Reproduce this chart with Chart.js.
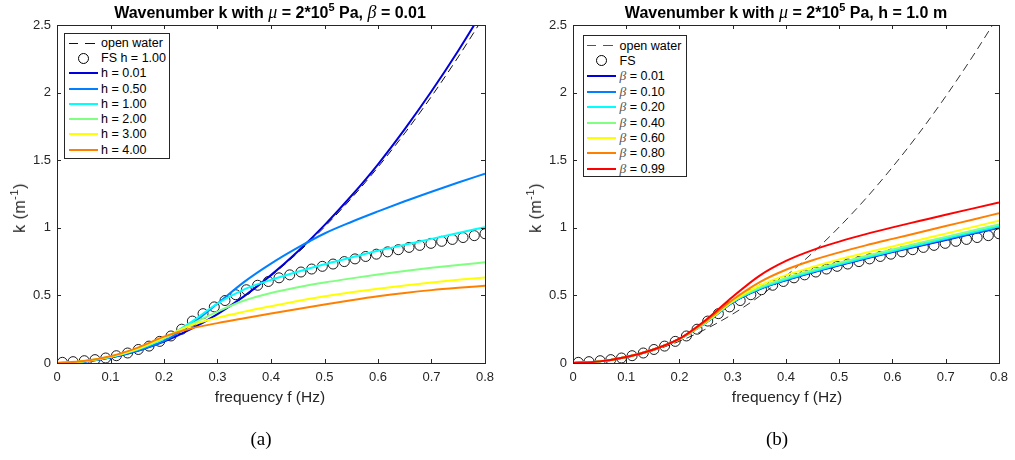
<!DOCTYPE html>
<html>
<head>
<meta charset="utf-8">
<script src="https://cdn.jsdelivr.net/npm/chart.js@4.4.0/dist/chart.umd.min.js"></script>
<style>
  body { margin: 0; background: #fff; width: 1015px; height: 460px; position: relative; overflow: hidden;
         font-family: 'Liberation Sans', Arial, sans-serif; color: #000; }
  canvas { position: absolute; top: 0; }
  .title { position: absolute; top: 3px; font-weight: bold; font-size: 16px; white-space: nowrap;
           transform: translateX(-50%); line-height: 18px; }
  .tex { font-family: 'Liberation Serif', serif; font-style: italic; font-weight: normal; font-size: 18px; }
  .title sup { font-size: 11px; line-height: 0; vertical-align: 7px; }
  .xlab { position: absolute; top: 388px; font-size: 15.5px; transform: translateX(-50%); white-space: nowrap; color: #262626; }
  .ylab { position: absolute; font-size: 16px; white-space: nowrap; color: #262626; letter-spacing: 0.5px;
          transform: translate(-50%, -50%) rotate(-90deg); }
  .ylab sup { font-size: 11px; line-height: 0; vertical-align: 7px; }
  .cap { position: absolute; top: 428px; font-family: 'Liberation Serif', serif; font-size: 19px; transform: translateX(-50%); }
  .legend { position: absolute; border: 1px solid #262626; background: #fff; box-sizing: border-box; }
  .legend .row { position: absolute; height: 16px; font-size: 12.5px; line-height: 16px; white-space: nowrap; color: #000; }
  .legend .sw { position: absolute; }
  .legend .beta { font-family: 'Liberation Serif', serif; font-style: italic; font-size: 13.5px; color: #555; }
</style>
</head>
<body>
<canvas id="chartA" width="505" height="460" style="left:0"></canvas>
<canvas id="chartB" width="510" height="460" style="left:505px"></canvas>

<div class="title" style="left:270px">Wavenumber k with <span class="tex">μ</span> = 2*10<sup>5</sup> Pa, <span class="tex">β</span> = 0.01</div>
<div class="title" style="left:786px">Wavenumber k with <span class="tex">μ</span> = 2*10<sup>5</sup> Pa, h = 1.0 m</div>
<div class="ylab" style="left:20px; top:208px">k (m<sup>-1</sup>)</div>
<div class="ylab" style="left:536px; top:208px">k (m<sup>-1</sup>)</div>
<div class="xlab" style="left:270px">frequency f (Hz)</div>
<div class="xlab" style="left:787px">frequency f (Hz)</div>
<div class="cap" style="left:261px">(a)</div>
<div class="cap" style="left:777px">(b)</div>

<script>
/* ── Frequencies (Hz) ─────────────────────────── */
const F_LINE = [0, 0.05, 0.10, 0.15, 0.20, 0.25, 0.30, 0.35, 0.40, 0.45, 0.50, 0.55, 0.60, 0.65, 0.70, 0.75, 0.80];
const F_FS = [0.010, 0.030, 0.051, 0.071, 0.091, 0.111, 0.132, 0.152, 0.172, 0.192,
              0.213, 0.233, 0.253, 0.273, 0.294, 0.314, 0.334, 0.354, 0.375, 0.395,
              0.415, 0.435, 0.456, 0.476, 0.496, 0.516, 0.537, 0.557, 0.577, 0.597,
              0.618, 0.638, 0.658, 0.678, 0.699, 0.719, 0.739, 0.759, 0.780, 0.800];

/* ── Wavenumber k (1/m), shared series ────────── */
const K_OPEN = [0, 0.010, 0.040, 0.091, 0.161, 0.252, 0.362, 0.493, 0.644, 0.815, 1.006, 1.217, 1.449, 1.700, 1.972, 2.264, 2.575];
const K_FS = [0.005, 0.010, 0.017, 0.025, 0.037, 0.054, 0.074, 0.100, 0.125, 0.160,
              0.200, 0.250, 0.310, 0.365, 0.415, 0.462, 0.505, 0.542, 0.575, 0.603,
              0.630, 0.652, 0.673, 0.695, 0.715, 0.732, 0.750, 0.770, 0.788, 0.805,
              0.822, 0.838, 0.855, 0.870, 0.885, 0.900, 0.914, 0.928, 0.942, 0.956];

/* ── (a) thickness sweep, beta = 0.01 ─────────── */
const K_H001 = [0, 0.010, 0.040, 0.089, 0.158, 0.250, 0.362, 0.495, 0.650, 0.825, 1.020, 1.235, 1.470, 1.730, 2.010, 2.310, 2.630];
const K_H050 = [0, 0.010, 0.040, 0.090, 0.163, 0.285, 0.440, 0.600, 0.735, 0.853, 0.958, 1.043, 1.121, 1.196, 1.267, 1.335, 1.400];
const K_H100 = [0, 0.013, 0.045, 0.100, 0.180, 0.300, 0.440, 0.545, 0.615, 0.675, 0.730, 0.780, 0.830, 0.875, 0.918, 0.962, 1.005];
const K_H200 = [0, 0.013, 0.046, 0.102, 0.185, 0.285, 0.380, 0.462, 0.518, 0.560, 0.595, 0.626, 0.655, 0.681, 0.704, 0.725, 0.745];
const K_H300 = [0, 0.013, 0.047, 0.105, 0.190, 0.278, 0.335, 0.380, 0.420, 0.458, 0.493, 0.523, 0.550, 0.574, 0.595, 0.615, 0.633];
const K_H400 = [0, 0.014, 0.050, 0.112, 0.195, 0.255, 0.295, 0.331, 0.366, 0.400, 0.433, 0.464, 0.493, 0.518, 0.539, 0.556, 0.571];

/* ── (b) beta sweep, h = 1.0 m ────────────────── */
const K_B001 = [0, 0.012, 0.045, 0.098, 0.178, 0.300, 0.448, 0.545, 0.612, 0.669, 0.722, 0.772, 0.820, 0.865, 0.910, 0.955, 1.000];
const K_B010 = [0, 0.012, 0.045, 0.098, 0.178, 0.300, 0.450, 0.548, 0.615, 0.673, 0.727, 0.777, 0.825, 0.870, 0.915, 0.960, 1.005];
const K_B020 = [0, 0.012, 0.045, 0.098, 0.178, 0.301, 0.452, 0.551, 0.619, 0.677, 0.731, 0.781, 0.829, 0.875, 0.921, 0.967, 1.012];
const K_B040 = [0, 0.012, 0.045, 0.098, 0.178, 0.302, 0.455, 0.558, 0.629, 0.688, 0.742, 0.792, 0.840, 0.887, 0.933, 0.979, 1.025];
const K_B060 = [0, 0.012, 0.045, 0.098, 0.178, 0.305, 0.460, 0.572, 0.650, 0.710, 0.765, 0.815, 0.862, 0.910, 0.957, 1.005, 1.052];
const K_B080 = [0, 0.012, 0.045, 0.098, 0.178, 0.310, 0.468, 0.597, 0.690, 0.760, 0.818, 0.870, 0.918, 0.965, 1.013, 1.060, 1.108];
const K_B099 = [0, 0.012, 0.045, 0.098, 0.180, 0.320, 0.490, 0.645, 0.755, 0.835, 0.898, 0.953, 1.003, 1.050, 1.097, 1.142, 1.187];

/* ── Labels & axis ticks ──────────────────────── */
const H_LABELS    = ['h = 0.01', 'h = 0.50', 'h = 1.00', 'h = 2.00', 'h = 3.00', 'h = 4.00'];
const BETA_VALUES = ['0.01', '0.10', '0.20', '0.40', '0.60', '0.80', '0.99'];
const X_TICK_STEP = 0.1;
const Y_TICK_STEP = 0.5;

/* ── Palette (jet-like) ───────────────────────── */
const JET = ['#0000dd', '#0080ff', '#00ffff', '#80ff80', '#ffff00', '#ff8000', '#ff0000'];
const C_AXIS = '#262626';

Chart.defaults.font.family = "'Liberation Sans', Arial, sans-serif";
Chart.defaults.font.size = 13;
Chart.defaults.color = C_AXIS;

function pts(xs, ys) { return xs.map((x, i) => ({ x, y: ys[i] })); }
function fmt(v) { return String(Math.round(v * 10) / 10); }

function lineSet(label, ys, color, i) {
  return {
    label, data: pts(F_LINE, ys), borderColor: color, borderWidth: 2,
    pointRadius: 0, cubicInterpolationMode: 'monotone', fill: false, order: -i,
  };
}

/* MATLAB style box with inward ticks on all sides */
const boxPlugin = {
  id: 'matlabBox',
  afterDraw(chart) {
    const { ctx, chartArea: a, scales: { x, y } } = chart;
    const L = 4;
    ctx.save();
    ctx.strokeStyle = C_AXIS;
    ctx.lineWidth = 1;
    ctx.beginPath();
    x.ticks.forEach(t => {
      const px = Math.round(x.getPixelForValue(t.value)) + 0.5;
      ctx.moveTo(px, a.bottom); ctx.lineTo(px, a.bottom - L);
      ctx.moveTo(px, a.top);    ctx.lineTo(px, a.top + L);
    });
    y.ticks.forEach(t => {
      const py = Math.round(y.getPixelForValue(t.value)) + 0.5;
      ctx.moveTo(a.left, py);  ctx.lineTo(a.left + L, py);
      ctx.moveTo(a.right, py); ctx.lineTo(a.right - L, py);
    });
    ctx.stroke();
    ctx.strokeRect(Math.round(a.left) + 0.5, Math.round(a.top) + 0.5,
                   Math.round(a.width), Math.round(a.height));
    ctx.restore();
  },
};

function buildChart(id, datasets, yWidth, padRight) {
  return new Chart(document.getElementById(id), {
    type: 'line',
    data: { datasets },
    options: {
      responsive: false,
      animation: false,
      layout: { padding: { top: 25, right: padRight, left: 0, bottom: 0 } },
      plugins: { legend: { display: false }, tooltip: { enabled: false } },
      scales: {
        x: {
          type: 'linear', min: 0, max: 0.8,
          ticks: { stepSize: X_TICK_STEP, padding: 7, autoSkip: false, maxRotation: 0, callback: fmt },
          grid: { display: false, drawTicks: false }, border: { display: false },
          afterFit: s => { s.height = 97; },
        },
        y: {
          min: 0, max: 2.5,
          ticks: { stepSize: Y_TICK_STEP, padding: 6, callback: fmt },
          grid: { display: false, drawTicks: false }, border: { display: false },
          afterFit: s => { s.width = yWidth; },
        },
      },
    },
    plugins: [boxPlugin],
  });
}

const openSet = (color) => ({
  label: 'open water', data: pts(F_LINE, K_OPEN), borderColor: color, borderWidth: 1,
  borderDash: [8, 5], pointRadius: 0, cubicInterpolationMode: 'monotone', fill: false, order: 10,
});
const fsSet = (label) => ({
  label, data: pts(F_FS, K_FS), showLine: false, pointStyle: 'circle', pointRadius: 5,
  pointBorderColor: '#000', pointBackgroundColor: 'rgba(0,0,0,0)', pointBorderWidth: 0.9, order: 9,
});

/* ── (a) ── */
const H_SERIES = [K_H001, K_H050, K_H100, K_H200, K_H300, K_H400];
const H_COLORS = [JET[0], JET[1], JET[2], JET[3], JET[4], JET[5]];
buildChart('chartA', [
  openSet('#111'),
  fsSet('FS h = 1.00'),
  ...H_SERIES.map((ys, i) => lineSet(H_LABELS[i], ys, H_COLORS[i], i)),
], 57, 20);

/* ── (b) ── */
const B_SERIES = [K_B001, K_B010, K_B020, K_B040, K_B060, K_B080, K_B099];
buildChart('chartB', [
  openSet('#333'),
  fsSet('FS'),
  ...B_SERIES.map((ys, i) => lineSet('β = ' + BETA_VALUES[i], ys, JET[i], i)),
], 68, 14);

/* ── HTML legends inside the axes ─────────────── */
function legend(box, rows) {
  const el = document.createElement('div');
  el.className = 'legend';
  Object.assign(el.style, { left: box.left + 'px', top: box.top + 'px', width: box.w + 'px', height: box.h + 'px' });
  rows.forEach((r, i) => {
    const cy = box.first + i * box.step;
    const sw = document.createElement('div');
    sw.className = 'sw';
    if (r.kind === 'circle') {
      Object.assign(sw.style, { left: (box.swL + box.swW / 2 - 5.5) + 'px', top: (cy - 5.5) + 'px',
        width: '9px', height: '9px', border: '1px solid #000', borderRadius: '50%' });
    } else if (r.kind === 'dash') {
      Object.assign(sw.style, { left: box.swL + 'px', top: (cy - 0.5) + 'px', width: box.swW + 'px', height: '1px',
        background: `linear-gradient(to right, ${r.color} 0 9px, transparent 9px 16px, ${r.color} 16px 26px, transparent 26px)` });
    } else {
      Object.assign(sw.style, { left: box.swL + 'px', top: (cy - 1) + 'px', width: box.swW + 'px', height: '2px', background: r.color });
    }
    el.appendChild(sw);
    const t = document.createElement('div');
    t.className = 'row';
    t.style.left = box.txL + 'px';
    t.style.top = (cy - 8) + 'px';
    t.innerHTML = r.html;
    el.appendChild(t);
  });
  document.body.appendChild(el);
}

legend({ left: 64, top: 33, w: 106, h: 126, first: 9, step: 15.23, swL: 3.5, swW: 29.5, txL: 36 }, [
  { kind: 'dash', color: '#111', html: 'open water' },
  { kind: 'circle', html: 'FS h = 1.00' },
  ...H_LABELS.map((l, i) => ({ kind: 'line', color: H_COLORS[i], html: l })),
]);

legend({ left: 583, top: 35, w: 104, h: 142, first: 9.5, step: 15.41, swL: 3, swW: 29, txL: 35.5 }, [
  { kind: 'dash', color: '#555', html: 'open water' },
  { kind: 'circle', html: 'FS' },
  ...BETA_VALUES.map((v, i) => ({ kind: 'line', color: JET[i], html: '<span class="beta">β</span> = ' + v })),
]);
</script>
</body>
</html>
